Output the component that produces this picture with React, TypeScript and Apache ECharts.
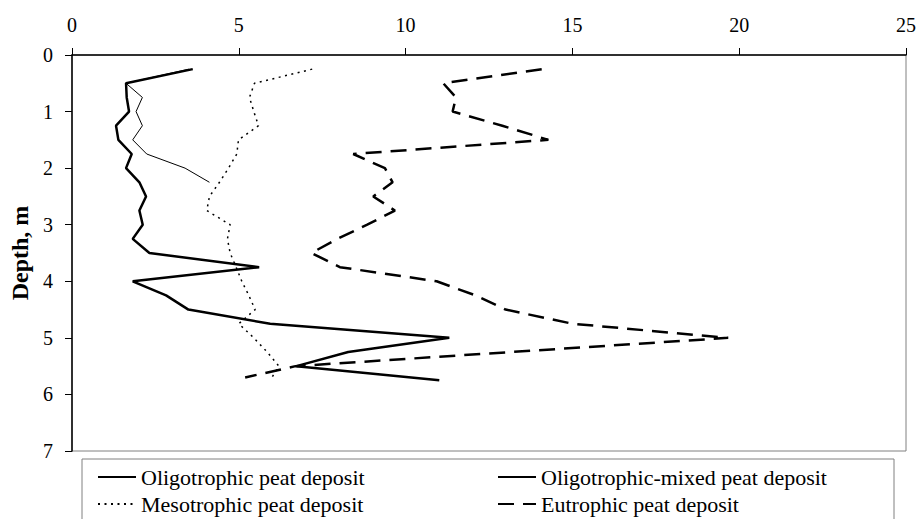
import React, { useEffect, useRef } from "react";
import * as echarts from "echarts";

const xTicks = [0, 5, 10, 15, 20, 25];
const depthTicks = [0, 1, 2, 3, 4, 5, 6, 7];

const oligoDepth = [0.25, 0.5, 0.75, 1.0, 1.25, 1.5, 1.75, 2.0, 2.25, 2.5, 2.75, 3.0, 3.25, 3.5, 3.75, 4.0, 4.25, 4.5, 4.75, 5.0, 5.25, 5.5, 5.75];
const oligoVal = [3.62, 1.62, 1.64, 1.71, 1.32, 1.39, 1.79, 1.62, 2.02, 2.22, 2.02, 2.12, 1.82, 2.32, 5.61, 1.82, 2.82, 3.49, 5.94, 11.31, 8.28, 6.73, 11.01];

const mixedDepth = [0.25, 0.5, 0.75, 1.0, 1.25, 1.5, 1.75, 2.0, 2.25];
const mixedVal = [3.5, 1.62, 2.11, 1.92, 2.11, 1.82, 2.24, 3.39, 4.12];

const mesoDepth = [0.25, 0.5, 0.75, 1.0, 1.25, 1.5, 1.75, 2.0, 2.25, 2.5, 2.75, 3.0, 3.25, 3.5, 3.75, 4.0, 4.25, 4.5, 4.75, 5.0, 5.25, 5.5, 5.75];
const mesoVal = [7.2, 5.47, 5.32, 5.45, 5.59, 4.99, 4.94, 4.69, 4.42, 4.12, 4.04, 4.74, 4.66, 4.74, 4.92, 5.09, 5.3, 5.49, 5.0, 5.45, 5.85, 6.2, 5.94];

const eutroDepth = [0.25, 0.5, 0.75, 1.0, 1.25, 1.5, 1.75, 2.0, 2.25, 2.5, 2.75, 3.0, 3.25, 3.5, 3.75, 4.0, 4.25, 4.5, 4.75, 5.0, 5.5, 5.7];
const eutroVal = [14.08, 11.13, 11.51, 11.41, 12.9, 14.28, 8.43, 9.38, 9.61, 9.03, 9.68, 8.85, 7.95, 7.18, 8.03, 10.93, 12.1, 13.0, 15.0, 19.67, 6.7, 5.19];

const seriesNames = [
  "Oligotrophic peat deposit",
  "Oligotrophic-mixed peat deposit",
  "Mesotrophic peat deposit",
  "Eutrophic peat deposit",
];

const FONT = '"Times New Roman", "Liberation Serif", serif';

function pairs(vals: number[], depths: number[]) {
  return vals.map((v, i) => [v, depths[i]]);
}

export default function App() {
  const ref = useRef<HTMLDivElement>(null);
  useEffect(() => {
    if (!ref.current) return;
    const chart = echarts.init(ref.current, undefined, { renderer: "svg" });
    const axisLine = { show: true, lineStyle: { color: "#000", width: 1.5 } };
    const legendBase = {
      orient: "vertical",
      top: 466,
      padding: 0,
      itemGap: 5,
      itemWidth: 38,
      itemHeight: 14,
      itemStyle: { opacity: 0 },
      textStyle: { color: "#000", fontFamily: FONT, fontSize: 22 },
    };
    chart.setOption({
      animation: false,
      backgroundColor: "#fff",
      grid: {
        left: 72,
        right: 13,
        top: 55,
        height: 396,
        containLabel: false,
        outerBoundsMode: "none",
        show: true,
        borderColor: "#808080",
        borderWidth: 1,
        backgroundColor: "transparent",
      },
      xAxis: {
        type: "value",
        position: "top",
        min: xTicks[0],
        max: xTicks[xTicks.length - 1],
        interval: 5,
        axisLine,
        axisTick: { show: true, inside: false, length: 7, lineStyle: { color: "#000", width: 1 } },
        axisLabel: { color: "#000", fontFamily: FONT, fontSize: 20, margin: 20 },
        splitLine: { show: false },
      },
      yAxis: {
        type: "value",
        inverse: true,
        min: depthTicks[0],
        max: depthTicks[depthTicks.length - 1],
        interval: 1,
        name: "Depth, m",
        nameLocation: "middle",
        nameRotate: 90,
        nameGap: 38,
        nameTextStyle: { color: "#000", fontFamily: FONT, fontSize: 24, fontWeight: "bold" },
        axisLine,
        axisTick: { show: true, inside: false, length: 7, lineStyle: { color: "#000", width: 1 } },
        axisLabel: { color: "#000", fontFamily: FONT, fontSize: 20, margin: 19 },
        splitLine: { show: false },
      },
      graphic: [
        {
          type: "rect",
          z: 0,
          shape: { x: 82, y: 459, width: 812, height: 80 },
          style: { fill: "#fff", stroke: "#808080", lineWidth: 1 },
        },
      ],
      legend: [
        { ...legendBase, data: [seriesNames[0], seriesNames[2]], left: 97 },
        { ...legendBase, data: [seriesNames[1], seriesNames[3]], left: 497 },
      ],
      series: [
        {
          name: seriesNames[0],
          type: "line",
          symbol: "none",
          data: pairs(oligoVal, oligoDepth),
          lineStyle: { color: "#000", width: 2.5 },
          itemStyle: { color: "#000" },
        },
        {
          name: seriesNames[1],
          type: "line",
          symbol: "none",
          data: pairs(mixedVal, mixedDepth),
          lineStyle: { color: "#000", width: 1 },
          itemStyle: { color: "#000" },
        },
        {
          name: seriesNames[2],
          type: "line",
          symbol: "none",
          data: pairs(mesoVal, mesoDepth),
          lineStyle: { color: "#000", width: 1.5, type: [2, 4.5] },
          itemStyle: { color: "#000" },
        },
        {
          name: seriesNames[3],
          type: "line",
          symbol: "none",
          data: pairs(eutroVal, eutroDepth),
          lineStyle: { color: "#000", width: 2.5, type: [16, 9] },
          itemStyle: { color: "#000" },
        },
      ],
    });
    return () => chart.dispose();
  }, []);
  return (
    <div
      ref={ref}
      style={{ position: "fixed", left: 0, top: 0, width: 919, height: 519, background: "#fff" }}
    />
  );
}
